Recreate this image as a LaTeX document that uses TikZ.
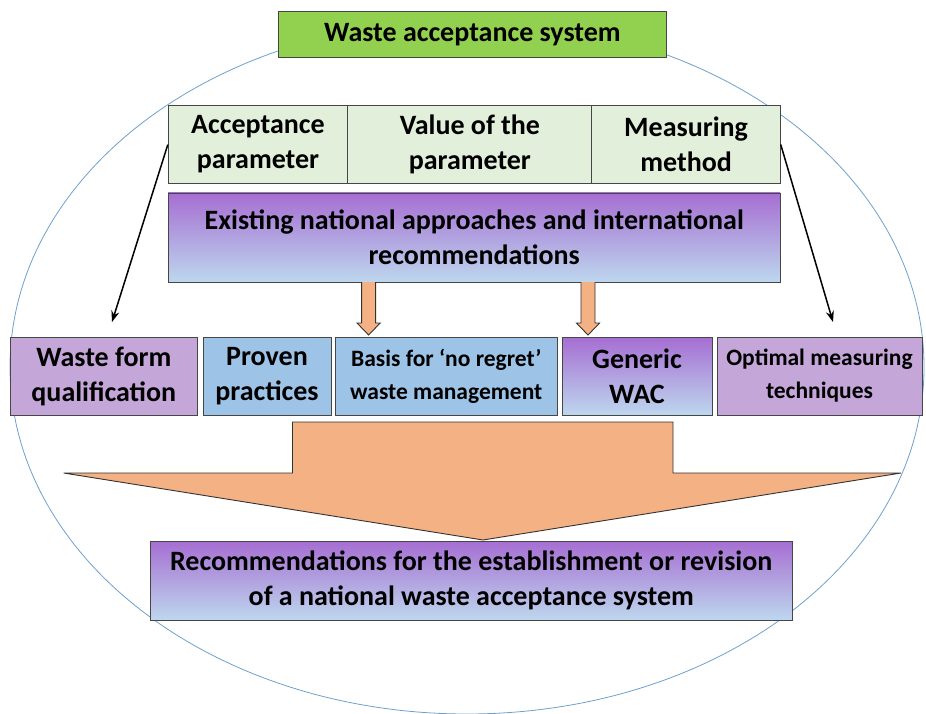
\documentclass[tikz,border=0pt]{standalone}
\usepackage{fontspec}
\setmainfont{Carlito}
\usepackage{tikz}
\usetikzlibrary{arrows.meta,positioning,calc}
\definecolor{wagreen}{RGB}{146,208,80}
\definecolor{walightgreen}{RGB}{226,239,218}
\definecolor{wapurple}{RGB}{196,166,216}
\definecolor{wablue}{RGB}{157,195,230}
\definecolor{wagradtop}{RGB}{166,110,210}
\definecolor{wagradbot}{RGB}{189,215,238}
\definecolor{waorange}{RGB}{244,177,131}
\definecolor{waellipse}{RGB}{110,160,205}
\definecolor{wagray}{RGB}{70,70,70}
\tikzstyle{box} = [rectangle, draw=wagray, line width=0.9pt, align=center, inner sep=0pt, text centered, font=\bfseries\fontsize{28}{35}\selectfont]
\tikzstyle{parambox} = [box, fill=walightgreen, minimum height=78.7pt]
\tikzstyle{gradbox} = [box, top color=wagradtop, bottom color=wagradbot]
\tikzstyle{rowbox} = [box, minimum height=78pt]
\tikzstyle{smalltext} = [font=\bfseries\fontsize{23.5}{33}\selectfont]
\tikzstyle{arrow} = [line width=1.5pt, -{Stealth[length=11pt,width=8pt]}]
\tikzstyle{blockarrow} = [draw=black!80, line width=0.9pt, fill=waorange]

\begin{document}
\begin{tikzpicture}[x=1pt, y=-1pt]
\useasboundingbox (0,0) rectangle (926,714);
% Ellipse
\draw[waellipse, line width=0.8pt] (467,367) ellipse [x radius=457, y radius=347];

% Title
\node[box, fill=wagreen, minimum width=387.6pt, minimum height=45.6pt] (title) at (472.4,34.5) {Waste acceptance system};

% Parameters
\node[parambox, minimum width=179.5pt] (acc) at (258,144.6) {Acceptance\\parameter};
\node[parambox, minimum width=244pt] (val) at (469.9,144.6) {Value of the\\parameter};
\node[parambox, minimum width=188.4pt] (meas) at (686.1,144.6) {Measuring\\method};

% Approaches
\node[gradbox, minimum width=612pt, minimum height=89pt] (existing) at (474.2,237.5) {Existing national approaches and international\\recommendations};

% Outcomes
\node[rowbox, fill=wapurple, minimum width=186.4pt] (wfq) at (103.8,376) {Waste form\\qualification};
\node[rowbox, fill=wablue, minimum width=128pt] (proven) at (267,376) {Proven\\practices};
\node[rowbox, smalltext, fill=wablue, minimum width=221.5pt] (basis) at (446.25,376) {Basis for ‘no regret’\\waste management};
\node[rowbox, top color=wagradtop, bottom color=wagradbot, minimum width=150pt] (generic) at (637,376) {Generic\\WAC};
\node[rowbox, smalltext, fill=wapurple, minimum width=205pt] (optimal) at (819.5,376) {Optimal measuring\\techniques};

% Side arrows
\coordinate (wfqtip) at (112,322);
\coordinate (opttip) at (833,322);
\draw[arrow] (acc.west) -- (wfqtip);
\draw[arrow] (meas.east) -- (opttip);

% Block arrows
\draw[blockarrow] (361.6,282) -- (361.6,323) -- (357,323) -- (368.6,335) -- (380.2,323) -- (375.6,323) -- (375.6,282);
\draw[blockarrow] (581,282) -- (581,323) -- (576.4,323) -- (588,335) -- (599.6,323) -- (595,323) -- (595,282);
\draw[blockarrow] (292.5,422) -- (673,422) -- (673,473) -- (901,473) -- (483,540) -- (63.6,473) -- (292.5,473) -- cycle;

% Result
\node[gradbox, minimum width=641.5pt, minimum height=79pt] (recomm) at (471.25,580.5) {Recommendations for the establishment or revision\\of a national waste acceptance system};
\end{tikzpicture}
\end{document}
